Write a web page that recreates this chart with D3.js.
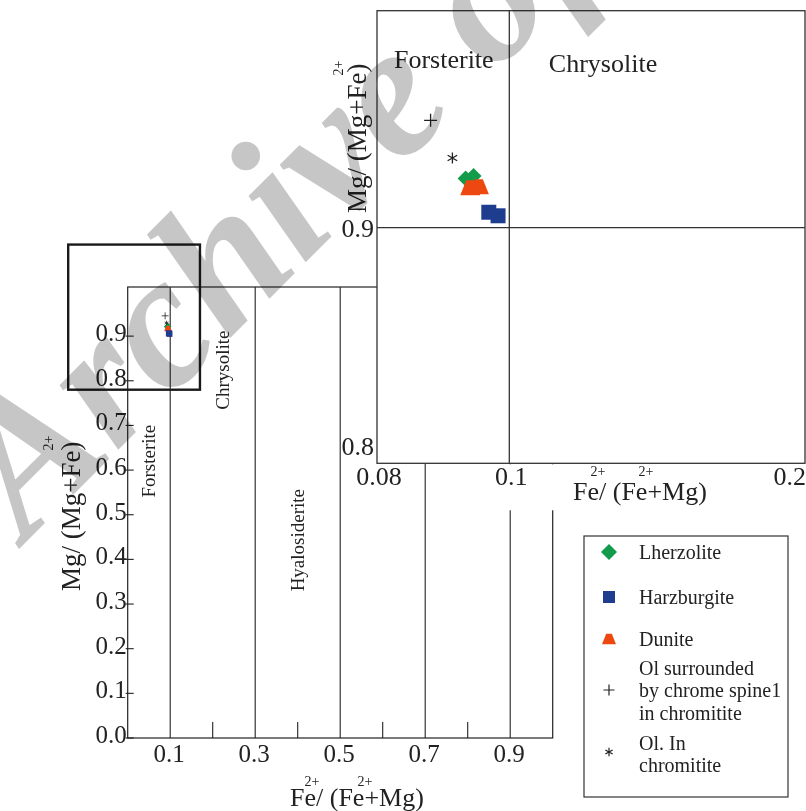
<!DOCTYPE html>
<html>
<head>
<meta charset="utf-8">
<script src="https://cdn.jsdelivr.net/npm/d3@7"></script>
<style>
  html, body { margin: 0; padding: 0; background: #fff; }
  svg { display: block; font-family: "Liberation Serif", "Times New Roman", serif; }
</style>
</head>
<body>
<svg id="chart" width="806" height="811"></svg>
<script>
// Olivine analyses: [Fe/(Fe+Mg), Mg/(Mg+Fe)]
const lherzolite = [[0.0934, 0.9208], [0.0946, 0.9219]];
const dunite = [[0.0941, 0.9169], [0.0954, 0.9173]];
const harzburgite = [[0.0969, 0.9065], [0.0983, 0.9050]];
const olSpinel = [[0.0881, 0.9455]];
const olChromitite = [[0.0914, 0.9295]];

// Main diagram ticks and fields
const mainXLabels = [0.1, 0.3, 0.5, 0.7, 0.9];
const mainXDividers = [0.1, 0.3, 0.5, 0.7, 0.9];
const mainXMinor = [0.2, 0.4, 0.6, 0.8];
const mainYLabels = [0.0, 0.1, 0.2, 0.3, 0.4, 0.5, 0.6, 0.7, 0.8, 0.9];
const mainFields = ["Forsterite", "Chrysolite", "Hyalosiderite"];
const mainFieldX = [0.05, 0.222, 0.40];
const mainFieldY = [0.62, 0.824, 0.443];
const zoomBoxX = [-0.14, 0.17];
const zoomBoxY = [0.78, 1.105];

// Inset (enlarged) diagram
const insetXLabels = [0.08, 0.1, 0.2];
const insetYLabels = [0.8, 0.9];
const insetFields = ["Forsterite", "Chrysolite"];
const insetFieldX = [0.0901, 0.1317];
const insetFieldY = [0.9713, 0.9696];

// Legend
const legendNames = [["Lherzolite"], ["Harzburgite"], ["Dunite"],
  ["Ol surrounded", "by chrome spine1", "in chromitite"], ["Ol. In", "chromitite"]];
const legendShapes = ["diamond", "square", "trapezoid", "plus", "asterisk"];

const GREEN = "#129b4b", BLUE = "#1f3d8e", ORANGE = "#ee4811", INK = "#222";

const series = [
  { data: lherzolite, shape: "diamond", color: GREEN },
  { data: dunite, shape: "trapezoid", color: ORANGE },
  { data: harzburgite, shape: "square", color: BLUE },
  { data: olSpinel, shape: "plus", color: INK },
  { data: olChromitite, shape: "asterisk", color: INK }
];
const shapeColor = { diamond: GREEN, square: BLUE, trapezoid: ORANGE, plus: INK, asterisk: INK };

const svg = d3.select("#chart");

// Symbol paths, s = half size in px
function symbolPath(shape, s) {
  switch (shape) {
    case "diamond": return `M0,${-s}L${s},0L0,${s}L${-s},0Z`;
    case "square": return `M${-s},${-s}H${s}V${s}H${-s}Z`;
    case "trapezoid": return `M${-s * 0.4},${-s * 0.75}H${s * 0.4}L${s},${s * 0.75}H${-s}Z`;
    case "plus": return `M${-s},0H${s}M0,${-s}V${s}`;
    case "asterisk": {
      let p = `M0,${-s}V${s}`;
      [30, 150].forEach(a => {
        const r = a * Math.PI / 180;
        p += `M${-s * Math.cos(r)},${-s * Math.sin(r)}L${s * Math.cos(r)},${s * Math.sin(r)}`;
      });
      return p;
    }
  }
}
const stroked = shape => shape === "plus" || shape === "asterisk";

function drawMarks(g, xs, ys, size, strokeW) {
  series.forEach(sr => {
    g.selectAll(null)
      .data(sr.data)
      .enter().append("path")
      .attr("transform", d => `translate(${xs(d[0])},${ys(d[1])})`)
      .attr("d", symbolPath(sr.shape, size[sr.shape]))
      .style("fill", stroked(sr.shape) ? "none" : sr.color)
      .style("stroke", stroked(sr.shape) ? sr.color : "none")
      .style("stroke-width", strokeW);
  });
}

// ---------- Main diagram ----------
const x = d3.scaleLinear().domain([0, 1]).range([127.7, 552.7]);
const y = d3.scaleLinear().domain([0, 1.01]).range([738, 287]);
const main = svg.append("g");

main.append("rect")
  .attr("x", x(0)).attr("y", y(1.01))
  .attr("width", x(1) - x(0)).attr("height", y(0) - y(1.01))
  .style("fill", "none").style("stroke", INK).style("stroke-width", 1.2);

main.selectAll(".divider")
  .data(mainXDividers)
  .enter().append("line")
  .attr("x1", d => x(d)).attr("x2", d => x(d))
  .attr("y1", y(1.01)).attr("y2", y(0))
  .style("stroke", INK).style("stroke-width", 1.1);

main.selectAll(".minor")
  .data(mainXMinor)
  .enter().append("line")
  .attr("x1", d => x(d)).attr("x2", d => x(d))
  .attr("y1", y(0) - 16).attr("y2", y(0))
  .style("stroke", INK).style("stroke-width", 1.1);

main.selectAll(".xlab")
  .data(mainXLabels)
  .enter().append("text")
  .attr("x", d => x(d) - 1).attr("y", y(0) + 24)
  .attr("text-anchor", "middle")
  .style("font-size", "25px").style("fill", INK)
  .text(d => d3.format(".1f")(d));

main.selectAll(".ytick")
  .data(mainYLabels)
  .enter().append("line")
  .attr("x1", x(0) - 2).attr("x2", x(0) + 6)
  .attr("y1", d => y(d)).attr("y2", d => y(d))
  .style("stroke", INK).style("stroke-width", 1.1);

main.selectAll(".ylab")
  .data(mainYLabels)
  .enter().append("text")
  .attr("x", x(0) - 1).attr("y", d => y(d) + 5)
  .attr("text-anchor", "end")
  .style("font-size", "25px").style("fill", INK)
  .text(d => d3.format(".1f")(d));

main.selectAll(".field")
  .data(mainFields)
  .enter().append("text")
  .attr("transform", (d, i) => `translate(${x(mainFieldX[i])},${y(mainFieldY[i])}) rotate(-90)`)
  .attr("text-anchor", "middle")
  .attr("dominant-baseline", "central")
  .style("font-size", "19px").style("fill", INK)
  .text(d => d);

// thick frame marking the enlarged area
main.append("rect")
  .attr("x", x(zoomBoxX[0])).attr("y", y(zoomBoxY[1]))
  .attr("width", x(zoomBoxX[1]) - x(zoomBoxX[0]))
  .attr("height", y(zoomBoxY[0]) - y(zoomBoxY[1]))
  .style("fill", "none").style("stroke", "#1a1a1a").style("stroke-width", 2.4);

drawMarks(main, x, y, { diamond: 3.5, square: 3, trapezoid: 3.5, plus: 3.5, asterisk: 2.2 }, 0.8);

// axis titles, superscripts as separate small labels
main.append("text")
  .attr("transform", "translate(80,591) rotate(-90)")
  .style("font-size", "27px").style("fill", INK)
  .text("Mg/ (Mg+Fe)");
main.append("text")
  .attr("transform", "translate(53,443) rotate(-90)")
  .attr("text-anchor", "middle")
  .style("font-size", "14px").style("fill", INK)
  .text("2+");

main.append("text")
  .attr("x", 290).attr("y", 806)
  .style("font-size", "26px").style("fill", INK)
  .text("Fe/ (Fe+Mg)");
main.selectAll(".xsup")
  .data([312, 365])
  .enter().append("text")
  .attr("x", d => d).attr("y", 786)
  .attr("text-anchor", "middle")
  .style("font-size", "14px").style("fill", INK)
  .text("2+");

// ---------- Inset ----------
const xi = d3.scaleLinear().domain([0.08, 0.1, 0.2]).range([377, 509.3, 805]);
const yi = d3.scaleLinear().domain([0.8, 0.992]).range([463.3, 10.7]);
const inset = svg.append("g");

inset.append("rect")
  .attr("x", xi(0.08)).attr("y", yi(0.992))
  .attr("width", xi(0.2) - xi(0.08)).attr("height", yi(0.8) - yi(0.992))
  .style("fill", "#fff").style("stroke", "#333").style("stroke-width", 1.3);
inset.append("rect")
  .attr("x", 430).attr("y", yi(0.8) + 1)
  .attr("width", 376).attr("height", 46)
  .style("fill", "#fff");

inset.append("line")
  .attr("x1", xi(0.08)).attr("x2", xi(0.2))
  .attr("y1", yi(0.9)).attr("y2", yi(0.9))
  .style("stroke", "#333").style("stroke-width", 1.3);
inset.append("line")
  .attr("x1", xi(0.1)).attr("x2", xi(0.1))
  .attr("y1", yi(0.992)).attr("y2", yi(0.8))
  .style("stroke", "#333").style("stroke-width", 1.3);

inset.selectAll(".ixlab")
  .data(insetXLabels)
  .enter().append("text")
  .attr("x", (d, i) => i === insetXLabels.length - 1 ? 806 : xi(d) + 2)
  .attr("y", yi(0.8) + 22)
  .attr("text-anchor", (d, i) => i === insetXLabels.length - 1 ? "end" : "middle")
  .style("font-size", "26px").style("fill", INK)
  .text(d => d);

inset.selectAll(".iylab")
  .data(insetYLabels)
  .enter().append("text")
  .attr("x", xi(0.08) - 3)
  .attr("y", d => Math.min(yi(d) + 9, yi(0.8) - 8))
  .attr("text-anchor", "end")
  .style("font-size", "26px").style("fill", INK)
  .text(d => d3.format(".1f")(d));

inset.selectAll(".ifield")
  .data(insetFields)
  .enter().append("text")
  .attr("x", (d, i) => xi(insetFieldX[i])).attr("y", (d, i) => yi(insetFieldY[i]))
  .attr("text-anchor", "middle")
  .attr("dominant-baseline", "central")
  .style("font-size", "26px").style("fill", INK)
  .text(d => d);

drawMarks(inset, xi, yi, { diamond: 8, square: 7.5, trapezoid: 10, plus: 6.5, asterisk: 5.5 }, 1.3);

inset.append("text")
  .attr("transform", "translate(366,213) rotate(-90)")
  .style("font-size", "27px").style("fill", INK)
  .text("Mg/ (Mg+Fe)");
inset.append("text")
  .attr("transform", "translate(343,68) rotate(-90)")
  .attr("text-anchor", "middle")
  .style("font-size", "14px").style("fill", INK)
  .text("2+");

inset.append("text")
  .attr("x", 573).attr("y", 500)
  .style("font-size", "26px").style("fill", INK)
  .text("Fe/ (Fe+Mg)");
inset.selectAll(".ixsup")
  .data([598, 646])
  .enter().append("text")
  .attr("x", d => d).attr("y", 476)
  .attr("text-anchor", "middle")
  .style("font-size", "14px").style("fill", INK)
  .text("2+");

// ---------- Legend ----------
const legend = svg.append("g");
legend.append("rect")
  .attr("x", 584).attr("y", 536).attr("width", 204).attr("height", 261)
  .style("fill", "#fff").style("stroke", "#333").style("stroke-width", 1.2);

const rowY = [552, 597, 639, 690, 754];
const legendSize = { diamond: 8, square: 6, trapezoid: 7, plus: 5.5, asterisk: 4.2 };
const rows = legend.selectAll(".row")
  .data(legendNames)
  .enter().append("g")
  .attr("transform", (d, i) => `translate(0,${rowY[i]})`);

rows.append("path")
  .attr("transform", (d, i) => `translate(609,${legendShapes[i] === "asterisk" ? -2 : 0})`)
  .attr("d", (d, i) => symbolPath(legendShapes[i], legendSize[legendShapes[i]]))
  .style("fill", (d, i) => stroked(legendShapes[i]) ? "none" : shapeColor[legendShapes[i]])
  .style("stroke", (d, i) => stroked(legendShapes[i]) ? INK : "none")
  .style("stroke-width", 1.2);

rows.each(function(lines) {
  d3.select(this).selectAll("text")
    .data(lines)
    .enter().append("text")
    .attr("x", 639)
    .attr("y", (d, j) => (j - (lines.length - 1) / 2) * 22.5)
    .attr("dominant-baseline", "central")
    .style("font-size", "20px").style("fill", INK)
    .text(d => d);
});

// ---------- Watermark ----------
svg.append("text")
  .attr("transform", "translate(26,542) rotate(-45)")
  .style("font-family", "'Liberation Serif', 'DejaVu Serif', serif")
  .style("font-size", "190px").style("font-weight", "bold").style("font-style", "italic")
  .style("fill", "#c6c6c6").style("mix-blend-mode", "multiply")
  .text("Archive of SID");
</script>
</body>
</html>
